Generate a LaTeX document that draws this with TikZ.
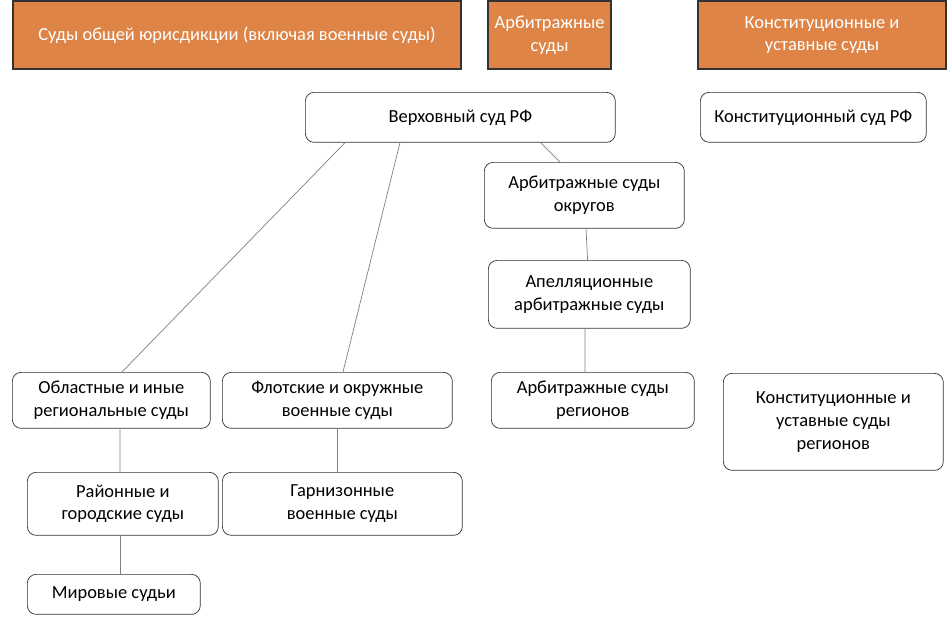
\documentclass[tikz,border=0pt]{standalone}
\usepackage{fontspec}
\setmainfont{Carlito}
\usetikzlibrary{positioning}
\definecolor{headorange}{HTML}{DE8446}
\definecolor{linegray}{HTML}{7F7F7F}

\begin{document}
\begin{tikzpicture}[
    x=0.02cm, y=-0.02cm,
    font=\fontsize{10.5}{13}\selectfont,
    head/.style={
        draw=black!80,
        line width=1.2pt,
        fill=headorange,
        text=white,
        align=center,
        anchor=north west,
        inner sep=0pt
    },
    court/.style={
        rectangle,
        draw=black!80,
        thin,
        fill=white,
        align=center,
        rounded corners=5pt,
        anchor=north west,
        inner sep=0pt
    },
    link/.style={
        draw=linegray,
        thin
    }
]

\useasboundingbox (0,0) rectangle (950,632);

% Headers
\node[head, minimum width=8.96cm, minimum height=1.36cm] (general) at (12,0) {Суды общей юрисдикции (включая военные суды)};
\node[head, minimum width=2.46cm, minimum height=1.36cm] (arbitr) at (487,0) {Арбитражные\\суды};
\node[head, minimum width=4.96cm, minimum height=1.36cm] (const) at (697,0) {Конституционные и\\уставные суды};

% Nodes
\node[court, minimum width=6.2cm, minimum height=1cm] (supreme) at (305,92) {Верховный суд РФ};
\node[court, minimum width=4.52cm, minimum height=1cm] (constrf) at (700,92) {Конституционный суд РФ};
\node[court, minimum width=4cm, minimum height=1.32cm] (arbdist) at (484,162) {Арбитражные суды\\округов};
\node[court, minimum width=4.04cm, minimum height=1.36cm] (appeal) at (488,260) {Апелляционные\\арбитражные суды};
\node[court, minimum width=4.06cm, minimum height=1.12cm] (arbreg) at (491,372) {Арбитражные суды\\регионов};
\node[court, minimum width=4.4cm, minimum height=1.94cm] (constreg) at (723,373) {Конституционные и\\уставные суды\\регионов};
\node[court, minimum width=3.96cm, minimum height=1.12cm] (regional) at (12,372) {Областные и иные\\региональные суды};
\node[court, minimum width=4.6cm, minimum height=1.12cm] (fleet) at (222,372) {Флотские и окружные\\военные суды};
\node[court, minimum width=3.82cm, minimum height=1.26cm] (district) at (27,472) {Районные и\\городские суды};
\node[court, minimum width=4.8cm, minimum height=1.26cm] (garrison) at (222,472) {Гарнизонные\\военные суды};
\node[court, minimum width=3.46cm, minimum height=0.8cm] (justice) at (27,574) {Мировые судьи};

% Connectors
\draw[link] ([xshift=0.8cm]supreme.south west) -- ([xshift=2.2cm]regional.north west);
\draw[link] ([xshift=1.9cm]supreme.south west) -- ([xshift=2.42cm]fleet.north west);
\draw[link] ([xshift=-1.5cm]supreme.south east) -- ([xshift=1.52cm]arbdist.north west);
\draw[link] (arbdist) -- (appeal);
\draw[link] ([xshift=1.94cm]appeal.south west) -- ([xshift=1.88cm]arbreg.north west);
\draw[link] ([xshift=2.16cm]regional.south west) -- ([xshift=1.86cm]district.north west);
\draw[link] ([xshift=2.3cm]fleet.south west) -- ([xshift=2.3cm]garrison.north west);
\draw[link] ([xshift=1.86cm]district.south west) -- ([xshift=1.86cm]justice.north west);
\end{tikzpicture}
\end{document}
